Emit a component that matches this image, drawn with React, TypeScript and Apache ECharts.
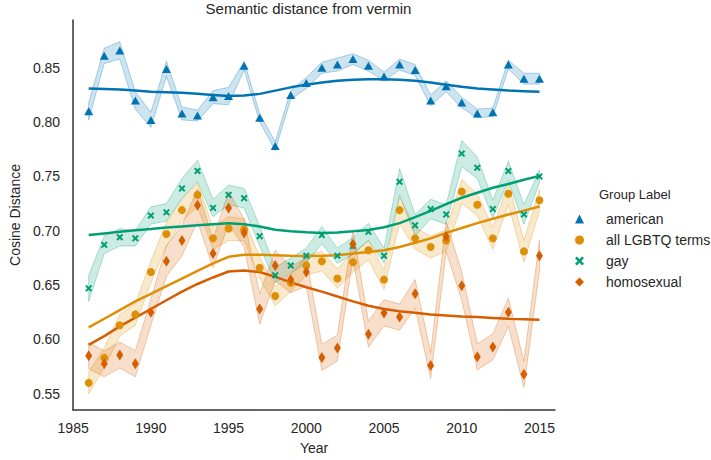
import React, { useEffect, useRef } from "react";
import * as echarts from "echarts";

const YEARS = [1986,1987,1988,1989,1990,1991,1992,1993,1994,1995,1996,1997,1998,1999,2000,2001,2002,2003,2004,2005,2006,2007,2008,2009,2010,2011,2012,2013,2014,2015];

const GROUPS = ["american", "all LGBTQ terms", "gay", "homosexual"];
const COLORS = ["#0173b2", "#de8f05", "#029e73", "#d55e00"];

const AMERICAN = [0.810,0.861,0.866,0.820,0.802,0.849,0.808,0.806,0.823,0.824,0.852,0.804,0.778,0.825,0.836,0.850,0.853,0.858,0.852,0.842,0.853,0.848,0.820,0.833,0.818,0.808,0.809,0.853,0.840,0.840];
const ALL_LGBTQ = [0.560,0.583,0.613,0.623,0.662,0.697,0.719,0.733,0.693,0.702,0.701,0.666,0.640,0.652,0.668,0.672,0.656,0.671,0.682,0.655,0.719,0.693,0.685,0.691,0.736,0.724,0.693,0.734,0.681,0.728];
const GAY = [0.647,0.687,0.694,0.693,0.714,0.717,0.739,0.755,0.721,0.733,0.730,0.695,0.659,0.668,0.677,0.696,0.677,0.686,0.699,0.677,0.745,0.705,0.720,0.715,0.771,0.758,0.720,0.755,0.715,0.750];
const HOMOSEXUAL = [0.585,0.5775,0.5856,0.5775,0.625,0.672,0.691,0.7235,0.679,0.721,0.698,0.628,0.668,0.655,0.662,0.5834,0.592,0.6875,0.6048,0.6244,0.6205,0.642,0.5759,0.6947,0.6493,0.584,0.593,0.625,0.5678,0.677];

const AMERICAN_CI = [0.008,0.007,0.008,0.008,0.007,0.007,0.006,0.005,0.006,0.008,0.004,0.004,0.004,0.004,0.005,0.005,0.006,0.005,0.005,0.004,0.005,0.005,0.005,0.005,0.005,0.004,0.004,0.004,0.005,0.005];
const ALL_LGBTQ_CI = [0.010,0.009,0.010,0.010,0.010,0.011,0.010,0.011,0.010,0.011,0.010,0.010,0.009,0.008,0.009,0.009,0.009,0.009,0.009,0.009,0.012,0.010,0.010,0.010,0.011,0.010,0.010,0.010,0.010,0.010];
const GAY_CI = [0.012,0.008,0.008,0.007,0.008,0.008,0.009,0.010,0.008,0.009,0.009,0.009,0.007,0.007,0.007,0.008,0.007,0.008,0.008,0.007,0.012,0.010,0.009,0.009,0.012,0.010,0.008,0.009,0.009,0.006];
const HOMOSEXUAL_CI = [0.012,0.012,0.012,0.012,0.012,0.014,0.014,0.015,0.013,0.015,0.013,0.014,0.014,0.012,0.013,0.012,0.012,0.013,0.012,0.012,0.012,0.013,0.012,0.014,0.013,0.012,0.012,0.013,0.012,0.014];

const AMERICAN_TREND = [0.831,0.8305,0.830,0.829,0.828,0.8275,0.827,0.826,0.825,0.824,0.8245,0.826,0.829,0.832,0.8345,0.8365,0.838,0.839,0.8395,0.8395,0.839,0.838,0.8365,0.8345,0.8325,0.831,0.830,0.829,0.8285,0.828];
const ALL_LGBTQ_TREND = [0.611,0.619,0.627,0.635,0.642,0.649,0.656,0.663,0.670,0.676,0.678,0.678,0.6775,0.677,0.6768,0.677,0.6775,0.679,0.6805,0.682,0.685,0.689,0.693,0.698,0.7025,0.707,0.711,0.715,0.7185,0.7223];
const GAY_TREND = [0.696,0.6975,0.699,0.7005,0.7017,0.703,0.704,0.705,0.706,0.707,0.706,0.704,0.701,0.6995,0.6986,0.698,0.6985,0.6995,0.7007,0.7032,0.707,0.7125,0.7183,0.7245,0.7304,0.735,0.7396,0.743,0.747,0.7505];
const HOMOSEXUAL_TREND = [0.595,0.603,0.612,0.620,0.628,0.636,0.644,0.651,0.657,0.6625,0.6635,0.662,0.6575,0.6525,0.648,0.644,0.6395,0.635,0.631,0.628,0.626,0.6245,0.623,0.622,0.621,0.6205,0.6198,0.619,0.6185,0.618];

const VALUES = [AMERICAN, ALL_LGBTQ, GAY, HOMOSEXUAL];
const CIS = [AMERICAN_CI, ALL_LGBTQ_CI, GAY_CI, HOMOSEXUAL_CI];
const TRENDS = [AMERICAN_TREND, ALL_LGBTQ_TREND, GAY_TREND, HOMOSEXUAL_TREND];

const X_PATH = "path://M2,0 L5,3 L8,0 L10,2 L7,5 L10,8 L8,10 L5,7 L2,10 L0,8 L3,5 L0,2 Z";
const SYMBOLS: any[] = ["triangle", "circle", X_PATH, "diamond"];
const SYMBOL_SIZES: any[] = [[9, 8], 8, 7, [7, 11]];

const FONT = "Liberation Sans, Arial, sans-serif";
const TEXT = "#262626";

function rgba(hex: string, a: number) {
  const r = parseInt(hex.slice(1, 3), 16);
  const g = parseInt(hex.slice(3, 5), 16);
  const b = parseInt(hex.slice(5, 7), 16);
  return `rgba(${r},${g},${b},${a})`;
}

export default function App() {
  const ref = useRef<HTMLDivElement>(null);
  useEffect(() => {
    if (!ref.current) return;
    const chart = echarts.init(ref.current, undefined, { renderer: "svg" });
    const series: any[] = [];
    GROUPS.forEach((name, gi) => {
      const vals = VALUES[gi];
      const ci = CIS[gi];
      const color = COLORS[gi];
      series.push({
        type: "custom",
        name: name + " CI",
        silent: true,
        z: 1,
        data: YEARS.map((y, i) => [y, vals[i] - ci[i], vals[i] + ci[i]]),
        encode: { x: 0, y: [1, 2] },
        renderItem: (params: any, api: any) => {
          if (params.dataIndex !== 0) return { type: "group", children: [] };
          const upper = YEARS.map((y, i) => api.coord([y, vals[i] + ci[i]]));
          const lower = YEARS.map((y, i) => api.coord([y, vals[i] - ci[i]])).reverse();
          return {
            type: "polygon",
            shape: { points: upper.concat(lower) },
            style: { fill: rgba(color, 0.2), stroke: rgba(color, 0.3), lineWidth: 1 },
          };
        },
      });
    });
    GROUPS.forEach((name, gi) => {
      series.push({
        type: "line",
        name: name + " trend",
        silent: true,
        z: 2,
        showSymbol: false,
        symbol: "none",
        data: YEARS.map((y, i) => [y, TRENDS[gi][i]]),
        lineStyle: { color: COLORS[gi], width: 2.5 },
        itemStyle: { color: COLORS[gi] },
      });
    });
    GROUPS.forEach((name, gi) => {
      series.push({
        type: "scatter",
        name,
        z: 3,
        symbol: SYMBOLS[gi],
        symbolSize: SYMBOL_SIZES[gi],
        data: YEARS.map((y, i) => [y, VALUES[gi][i]]),
        itemStyle: { color: COLORS[gi], opacity: 1 },
      });
    });

    chart.setOption({
      animation: false,
      textStyle: { fontFamily: FONT },
      grid: { left: 62, right: 156, top: 20, bottom: 45 },
      graphic: [
        {
          type: "text",
          x: 308.5,
          y: 8,
          style: {
            text: "Semantic distance from vermin",
            fill: TEXT,
            font: `15px ${FONT}`,
            textAlign: "center",
            textVerticalAlign: "middle",
          },
        },
        {
          type: "text",
          x: 599,
          y: 194,
          style: {
            text: "Group Label",
            fill: TEXT,
            font: `13px ${FONT}`,
            textAlign: "left",
            textVerticalAlign: "middle",
          },
        },
      ],
      legend: {
        data: GROUPS,
        orient: "vertical",
        left: 570,
        top: 207,
        itemWidth: 9,
        itemHeight: 9,
        itemGap: 7,
        selectedMode: false,
        textStyle: { fontSize: 14, color: TEXT, fontFamily: FONT, lineHeight: 14, padding: [0, 0, 0, 17] },
      },
      xAxis: {
        type: "value",
        min: 1985,
        max: 2016,
        interval: 5,
        name: "Year",
        nameLocation: "middle",
        nameGap: 31,
        nameTextStyle: { fontSize: 14, color: TEXT, fontFamily: FONT },
        axisLine: { show: true, lineStyle: { color: "#333333", width: 1.5 } },
        axisTick: { show: false },
        splitLine: { show: false },
        axisLabel: {
          fontSize: 14,
          color: TEXT,
          fontFamily: FONT,
          margin: 11,
          formatter: (v: number) => (Math.abs(v % 5) < 1e-9 ? String(v) : ""),
        },
      },
      yAxis: {
        type: "value",
        min: 0.535,
        max: 0.894,
        splitNumber: 7,
        name: "Cosine Distance",
        nameLocation: "middle",
        nameGap: 37,
        nameTextStyle: { fontSize: 14, color: TEXT, fontFamily: FONT },
        axisLine: { show: true, lineStyle: { color: "#333333", width: 1.5 } },
        axisTick: { show: false },
        splitLine: { show: false },
        axisLabel: {
          fontSize: 14,
          color: TEXT,
          fontFamily: FONT,
          margin: 13,
          showMinLabel: false,
          showMaxLabel: false,
          formatter: (v: number) =>
            Math.abs(v * 20 - Math.round(v * 20)) < 1e-6 ? v.toFixed(2) : "",
        },
      },
      series,
    });
    return () => chart.dispose();
  }, []);
  return <div ref={ref} style={{ width: 711, height: 460, position: "absolute", left: 0, top: 0 }} />;
}
